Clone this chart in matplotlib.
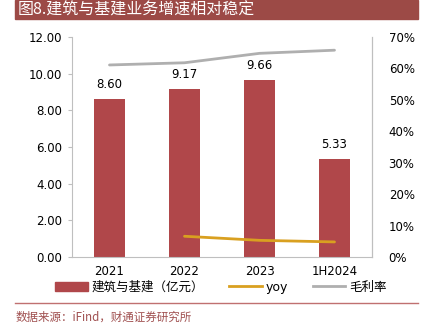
import numpy as np
import matplotlib.pyplot as plt
from matplotlib.lines import Line2D
from matplotlib.patches import Patch, Rectangle

plt.rcParams['font.family'] = ['DejaVu Sans', 'Noto Sans CJK SC']

# data
periods = ['2021', '2022', '2023', '1H2024']
revenue = [8.60, 9.17, 9.66, 5.33]          # 建筑与基建 (亿元)
yoy = [np.nan, 6.6, 5.3, 4.8]               # %
margin = [61.1, 61.8, 64.8, 65.8]           # 毛利率 %

bar_color = '#B0474A'
yoy_color = '#D9A020'
margin_color = '#AFAFAF'
title_bg = '#9C4A46'

fig = plt.figure(figsize=(4.26, 3.33), dpi=100)

# title bar
fig.patches.append(Rectangle((15/426, 1 - 19/333), 403/426, 19/333,
                             transform=fig.transFigure, color=title_bg, zorder=0))
fig.text(18/426, 1 - 10/333, '图8.建筑与基建业务增速相对稳定', color='white',
         fontsize=11.5, va='center', ha='left', family=['Noto Sans CJK SC'])

ax = fig.add_axes([72/426, 76/333, 300/426, 220/333])
x = np.arange(len(periods))
bars = ax.bar(x, revenue, width=0.42, color=bar_color, zorder=2)
for xi, v in zip(x, revenue):
    ax.text(xi, v + 0.45, f'{v:.2f}', ha='center', va='bottom', fontsize=8.5)

ax.set_xlim(-0.5, len(periods) - 0.5)
ax.set_ylim(0, 12)
ax.set_yticks(np.arange(0, 12.1, 2))
ax.set_yticklabels([f'{t:.2f}' for t in np.arange(0, 12.1, 2)], fontsize=8.5)
ax.set_xticks(x)
ax.set_xticklabels(periods, fontsize=8.5)
ax.tick_params(axis='x', length=0, pad=6)
ax.tick_params(axis='y', length=3, color='#BFBFBF', pad=4)
ax.spines['top'].set_visible(False)
for s in ['left', 'bottom', 'right']:
    ax.spines[s].set_color('#BFBFBF')

ax2 = ax.twinx()
ax2.plot(x, margin, color=margin_color, lw=2, solid_capstyle='round', zorder=3)
ax2.plot(x, yoy, color=yoy_color, lw=2, solid_capstyle='round', zorder=3)
ax2.set_ylim(0, 70)
ax2.set_yticks(np.arange(0, 71, 10))
ax2.set_yticklabels([f'{t}%' for t in range(0, 71, 10)], fontsize=8.5)
ax2.tick_params(axis='y', length=0, pad=12)
ax2.spines['top'].set_visible(False)
ax2.spines['left'].set_visible(False)
ax2.spines['bottom'].set_visible(False)
ax2.spines['right'].set_color('#BFBFBF')

handles = [Patch(color=bar_color),
           Line2D([], [], color=yoy_color, lw=2),
           Line2D([], [], color=margin_color, lw=2)]
labels = ['建筑与基建（亿元）', 'yoy', '毛利率']
fig.legend(handles, labels, loc='center', bbox_to_anchor=(221/426, 1 - 287/333),
           ncol=3, frameon=False, handlelength=2.6,
           handleheight=0.7, columnspacing=2.0, handletextpad=0.3,
           prop={'family': ['DejaVu Sans', 'Noto Sans CJK SC'], 'size': 9})

# divider and source note
fig.add_artist(Line2D([15/426, 418/426], [1 - 303/333] * 2,
                      transform=fig.transFigure, color='#C07070', lw=1))
fig.text(16/426, 1 - 317/333, '数据来源：iFind，财通证券研究所', color='#A05050',
         fontsize=8.3, va='center', ha='left', family=['Noto Sans CJK SC'])

fig.savefig('out.png', dpi=100)
